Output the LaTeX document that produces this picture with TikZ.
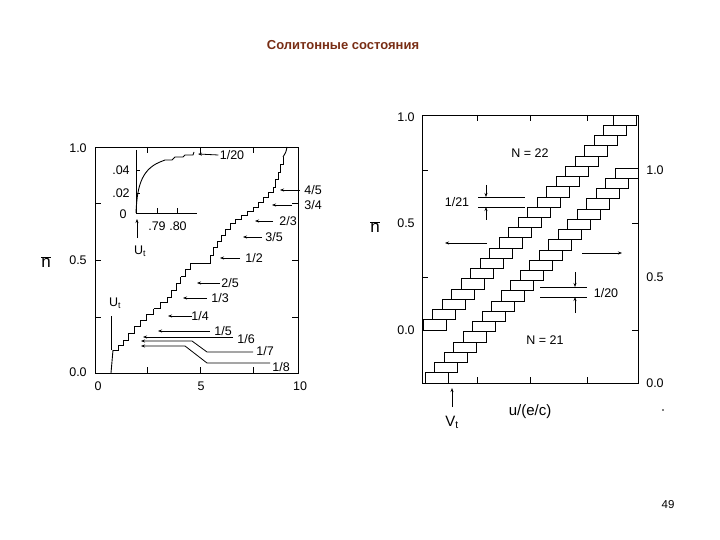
\documentclass[tikz,border=0pt]{standalone}
\usepackage{fontspec}
\setmainfont{Liberation Sans}
\usetikzlibrary{arrows.meta}
\begin{document}
\begin{tikzpicture}[x=1pt,y=-1pt,line width=0.9pt,
  lab/.style={font=\fontsize{12.5}{13}\selectfont,inner sep=1pt},
  arr/.style={-{Stealth[length=4pt,width=3pt]},line width=0.8pt}]
\useasboundingbox (0,0) rectangle (720,540);
\node[font=\bfseries\fontsize{13}{15}\selectfont,text={rgb,255:red,120;green,45;blue,20}] (title) at (343,45) {Солитонные состояния};
\node[font=\fontsize{11.5}{13}\selectfont] (pg) at (668,505) {49};
% ---- left plot
\draw (95,147) rectangle (298,373);
\foreach \x in {147,200,253}{\draw (\x,373)--(\x,367); \draw (\x,147)--(\x,153);}
\foreach \y in {203,260,317}{\draw (95,\y)--(101,\y); \draw (298,\y)--(292,\y);}
\node[lab] (l10) at (78,148) {1.0};
\node[lab] (l05) at (78,260) {0.5};
\node[lab] (l00) at (78,372) {0.0};
\node[lab] (b0) at (98,386) {0};
\node[lab] (b5) at (201,386) {5};
\node[lab] (b10) at (300,386) {10};
\node[font=\fontsize{17}{17}\selectfont] (nl) at (46,262) {$\overline{\mbox{n}}$};
\draw (111,373) .. controls (112,362) .. (113,350);
\foreach \ax/\ay/\bx/\by/\n in {113/350/123/340/2,123/340/140/320/3,140/320/167/297/4,167/297/190/263/5,207/263/213/247/2,213/247/230/223/4,230/223/253/207/4,253/207/273/187/4,273/187/283/157/4}{
  \pgfmathsetmacro\dx{(\bx-\ax)/\n}\pgfmathsetmacro\dy{(\by-\ay)/\n}
  \foreach \k in {1,...,\n}{\draw ({\ax+(\k-1)*\dx},{\ay+(\k-1)*\dy}) -- ++(\dx,0) -- ++(0,\dy);}}
\draw (190,263)--(207,263);
\draw (283,157) .. controls (286,152) .. (287,147);
% inset
\draw (136,150)--(136,213)--(197,213);
\foreach \x in {157,177}{\draw (\x,213)--(\x,208);}
\draw (136,170)--(140,170); \draw (136,193)--(140,193);
\node[lab] (i04) at (121,170) {.04};
\node[lab] (i02) at (121,193) {.02};
\node[lab] (i0) at (123,214) {0};
\node[lab] (i79) at (157,226) {.79};
\node[lab] (i80) at (178,226) {.80};
\draw (136,213) .. controls (137,190) and (140,170) .. (160,162) -- (165,160) -- (172,160) -- (175,157) -- (183,157) -- (185,155) -- (193,155) -- (194,152);
\coordinate (ut1) at (137,238); \coordinate (ut2) at (137,219);
\draw[arr] (ut1)--(ut2);
\node[lab] (utl) at (140,251) {U$_\mathrm{t}$};
\node[lab] (f20) at (232,155) {1/20};
\draw[arr] (f20.west)--(198,154);
% right labels
\foreach \nm/\lx/\ly/\ax/\bx/\t in {a/313/190/300/280/4\slash5,b/313/205/292/272/3\slash4,c/288/221/273/255/2\slash3,d/274/237/262/243/3\slash5,e/254/258/240/220/1\slash2,f/230/283/220/197/2\slash5,g/220/298/207/183/1\slash3,h/200/316/192/168/1\slash4,i/223/331/210/158/1\slash5}{
  \node[lab,anchor=west] (\nm) at (\lx-10,\ly) {\t};
  \draw[arr] (\ax,\ly)--(\bx,\ly);}
\node[lab,anchor=west] (f6) at (236,339) {1/6};
\node[lab,anchor=west] (f7) at (255,351) {1/7};
\node[lab,anchor=west] (f8) at (271,367) {1/8};
\draw[arr] (233,337)--(143,337);
\draw[arr] (253,352)--(207,352)--(192,341)--(141,341);
\draw[arr] (270,363)--(207,363)--(185,346)--(141,346);
\node[lab] (utl2) at (115,303) {U$_\mathrm{t}$};
\draw (111,316)--(111,350);
% ---- right plot
\draw (422,115) rectangle (638,383);
\foreach \x in {477,530,587}{\draw (\x,383)--(\x,377); \draw (\x,115)--(\x,121);}
\foreach \y in {170,277}{\draw (422,\y)--(428,\y);}
\foreach \y in {223,330}{\draw (638,\y)--(632,\y);}
\node[lab] (r10) at (406,117) {1.0};
\node[lab] (r05) at (406,223) {0.5};
\node[lab] (r00) at (406,330) {0.0};
\node[lab] (s10) at (655,170) {1.0};
\node[lab] (s05) at (655,277) {0.5};
\node[lab] (s00) at (655,383) {0.0};
\node[font=\fontsize{17}{17}\selectfont] (nr) at (375,227) {$\overline{\mbox{n}}$};
\node[lab,font=\fontsize{15}{16}\selectfont] (ux) at (530,412) {u/(e/c)};
\node[lab,font=\fontsize{15}{16}\selectfont] (vt) at (452,422) {V$_\mathrm{t}$};
\draw[arr] (452,407)--(452,388);
\node[lab] (n22) at (530,153) {N = 22};
\node[lab] (n21) at (545,340) {N = 21};
\foreach \i in {0,...,20}{
  \draw[line width=0.7pt] ({423+\i*9.5},{330-\i*10.24}) rectangle ++(23,-10.24);
  \draw[line width=0.7pt] ({425+\i*9.5},{383-\i*10.24}) rectangle ++(23,-10.24);}
\draw (478,197)--(525,197); \draw (478,207)--(525,207);
\draw[arr] (486,185)--(486,197); \draw[arr] (486,220)--(486,207);
\node[lab] (f21) at (457,202) {1/21};
\draw (540,287)--(587,287); \draw (540,297)--(587,297);
\draw[arr] (575,272)--(575,287); \draw[arr] (575,313)--(575,297);
\node[lab] (f20r) at (606,293) {1/20};
\draw[arr] (487,243)--(445,243);
\draw[arr] (582,253)--(622,253);
\fill (663,410) circle (0.8);
\end{tikzpicture}
\end{document}
